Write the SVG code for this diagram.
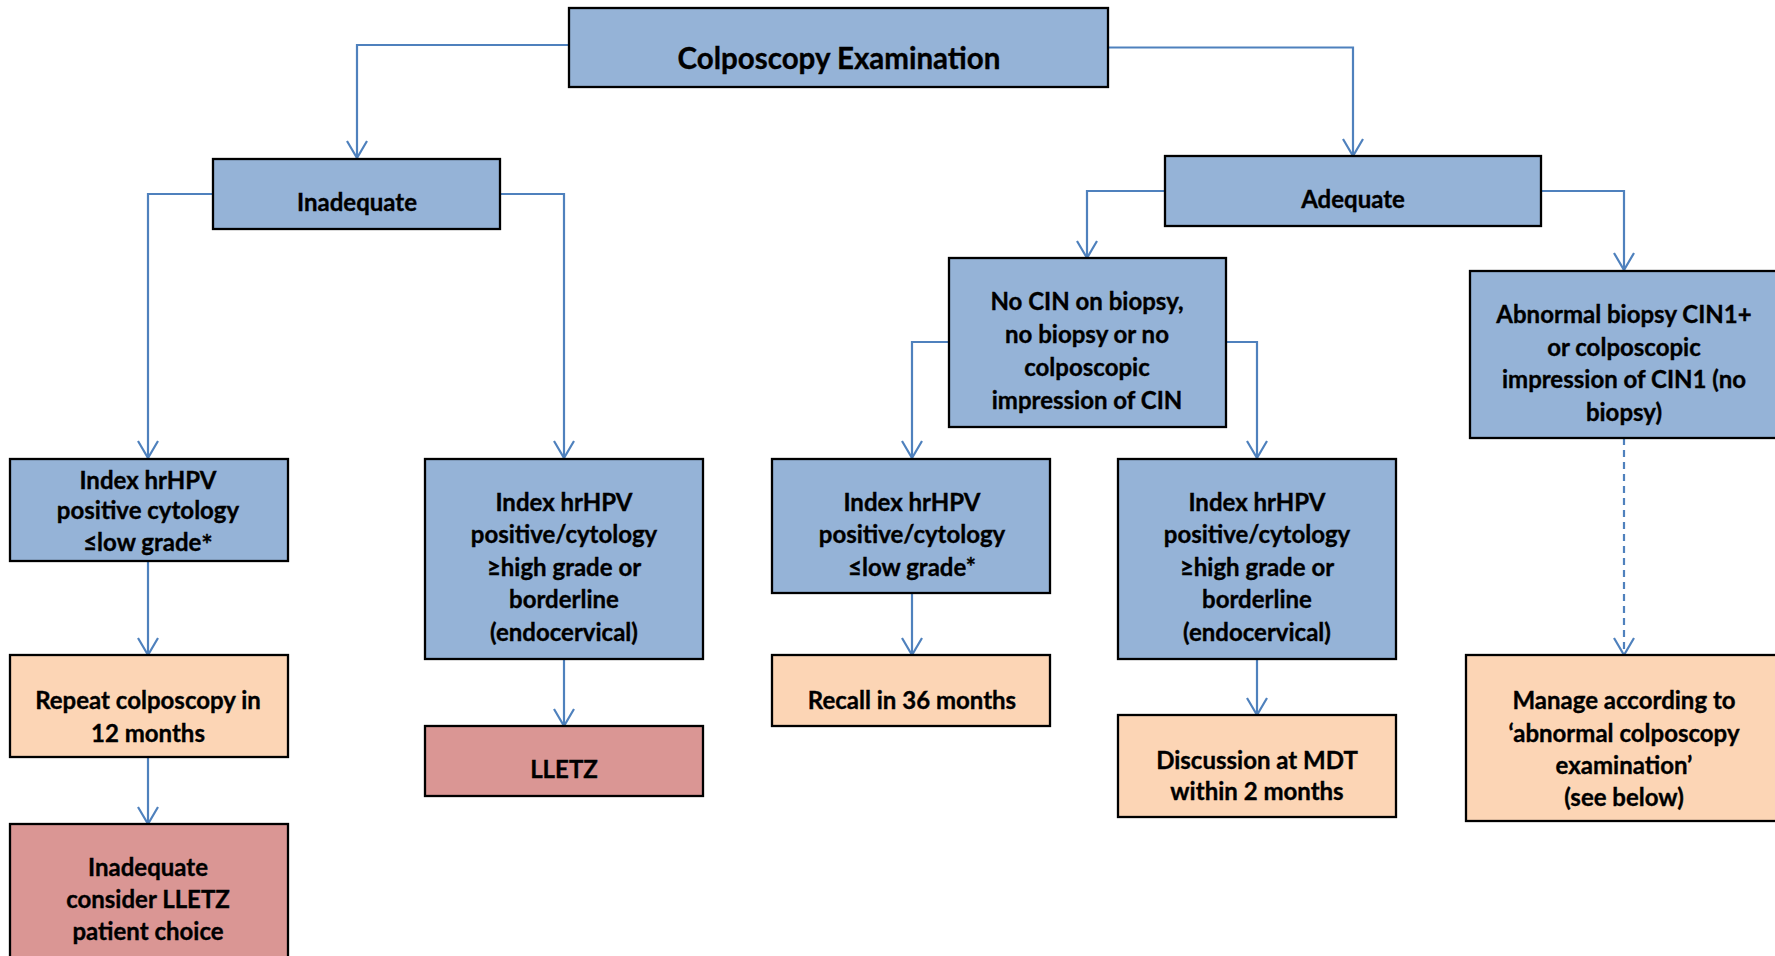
<svg xmlns="http://www.w3.org/2000/svg" width="1775" height="956" viewBox="0 0 1775 956">
<style>
.box{stroke:#000;stroke-width:2.3}
.blue{fill:#95B3D7}
.peach{fill:#FCD5B5}
.red{fill:#DA9694}
text{font-family:Lato,"Liberation Sans",sans-serif;font-weight:bold;font-size:24px;fill:#000;stroke:#000;stroke-width:0.35;text-anchor:middle}
.title{font-size:29.5px}
.conn{fill:none;stroke:#4F81BD;stroke-width:2.2}
.dash{stroke-dasharray:7 5}
</style>
<defs>
<marker id="arr" markerUnits="userSpaceOnUse" markerWidth="20" markerHeight="24" viewBox="0 0 20 24" refX="18" refY="11" orient="auto">
<path d="M1,1 L18,11 L1,21" fill="none" stroke="#4F81BD" stroke-width="2.2"/>
</marker>
</defs>
<rect width="1775" height="956" fill="#fff"/>
<g id="connectors">
<path class="conn" marker-end="url(#arr)" d="M569,45 H357 V158"/>
<path class="conn" marker-end="url(#arr)" d="M1108,47.5 H1353 V156"/>
<path class="conn" marker-end="url(#arr)" d="M213,194 H148 V458"/>
<path class="conn" marker-end="url(#arr)" d="M500,194 H564 V458"/>
<path class="conn" marker-end="url(#arr)" d="M1165,191 H1087 V258"/>
<path class="conn" marker-end="url(#arr)" d="M1541,191 H1624 V270"/>
<path class="conn" marker-end="url(#arr)" d="M949,342 H912 V458"/>
<path class="conn" marker-end="url(#arr)" d="M1226,342 H1257 V458"/>
<path class="conn dash" marker-end="url(#arr)" d="M1624,438 V655"/>
<path class="conn" marker-end="url(#arr)" d="M148,561 V655"/>
<path class="conn" marker-end="url(#arr)" d="M148,757 V824"/>
<path class="conn" marker-end="url(#arr)" d="M564,659 V726"/>
<path class="conn" marker-end="url(#arr)" d="M912,593 V655"/>
<path class="conn" marker-end="url(#arr)" d="M1257,659 V715"/>
</g>
<g id="colposcopy">
<rect class="box blue" x="569" y="8" width="539" height="79"/>
<text class="title" x="839" y="69">Colposcopy Examination</text>
</g>
<g id="inadequate">
<rect class="box blue" x="213" y="159" width="287" height="70"/>
<text x="357" y="211">Inadequate</text>
</g>
<g id="adequate">
<rect class="box blue" x="1165" y="156" width="376" height="70"/>
<text x="1353" y="208">Adequate</text>
</g>
<g id="nocin">
<rect class="box blue" x="949" y="258" width="277" height="169"/>
<text x="1087" y="310">No CIN on biopsy,</text>
<text x="1087" y="343">no biopsy or no</text>
<text x="1087" y="376">colposcopic</text>
<text x="1087" y="409">impression of CIN</text>
</g>
<g id="abnormal">
<rect class="box blue" x="1470" y="271" width="320" height="167"/>
<text x="1624" y="323">Abnormal biopsy CIN1+</text>
<text x="1624" y="356">or colposcopic</text>
<text x="1624" y="388">impression of CIN1 (no</text>
<text x="1624" y="421">biopsy)</text>
</g>
<g id="index1">
<rect class="box blue" x="10" y="459" width="278" height="102"/>
<text x="148" y="489">Index hrHPV</text>
<text x="148" y="519">positive cytology</text>
<text x="148" y="551">≤low grade<tspan font-size="27" dy="3">*</tspan></text>
</g>
<g id="repeat">
<rect class="box peach" x="10" y="655" width="278" height="102"/>
<text x="148" y="709">Repeat colposcopy in</text>
<text x="148" y="742">12 months</text>
</g>
<g id="inadequate-lletz">
<rect class="box red" x="10" y="824" width="278" height="150"/>
<text x="148" y="876">Inadequate</text>
<text x="148" y="908">consider LLETZ</text>
<text x="148" y="940">patient choice</text>
</g>
<g id="index2">
<rect class="box blue" x="425" y="459" width="278" height="200"/>
<text x="564" y="511">Index hrHPV</text>
<text x="564" y="543">positive/cytology</text>
<text x="564" y="576">≥high grade or</text>
<text x="564" y="608">borderline</text>
<text x="564" y="641">(endocervical)</text>
</g>
<g id="lletz">
<rect class="box red" x="425" y="726" width="278" height="70"/>
<text x="564" y="778">LLETZ</text>
</g>
<g id="index3">
<rect class="box blue" x="772" y="459" width="278" height="134"/>
<text x="912" y="511">Index hrHPV</text>
<text x="912" y="543">positive/cytology</text>
<text x="912" y="576">≤low grade*</text>
</g>
<g id="recall">
<rect class="box peach" x="772" y="655" width="278" height="71"/>
<text x="912" y="709">Recall in 36 months</text>
</g>
<g id="index4">
<rect class="box blue" x="1118" y="459" width="278" height="200"/>
<text x="1257" y="511">Index hrHPV</text>
<text x="1257" y="543">positive/cytology</text>
<text x="1257" y="576">≥high grade or</text>
<text x="1257" y="608">borderline</text>
<text x="1257" y="641">(endocervical)</text>
</g>
<g id="discussion">
<rect class="box peach" x="1118" y="715" width="278" height="102"/>
<text x="1257" y="769">Discussion at MDT</text>
<text x="1257" y="800">within 2 months</text>
</g>
<g id="manage">
<rect class="box peach" x="1466" y="655" width="320" height="166"/>
<text x="1624" y="709">Manage according to</text>
<text x="1624" y="742">‘abnormal colposcopy</text>
<text x="1624" y="774">examination’</text>
<text x="1624" y="806">(see below)</text>
</g>
</svg>
